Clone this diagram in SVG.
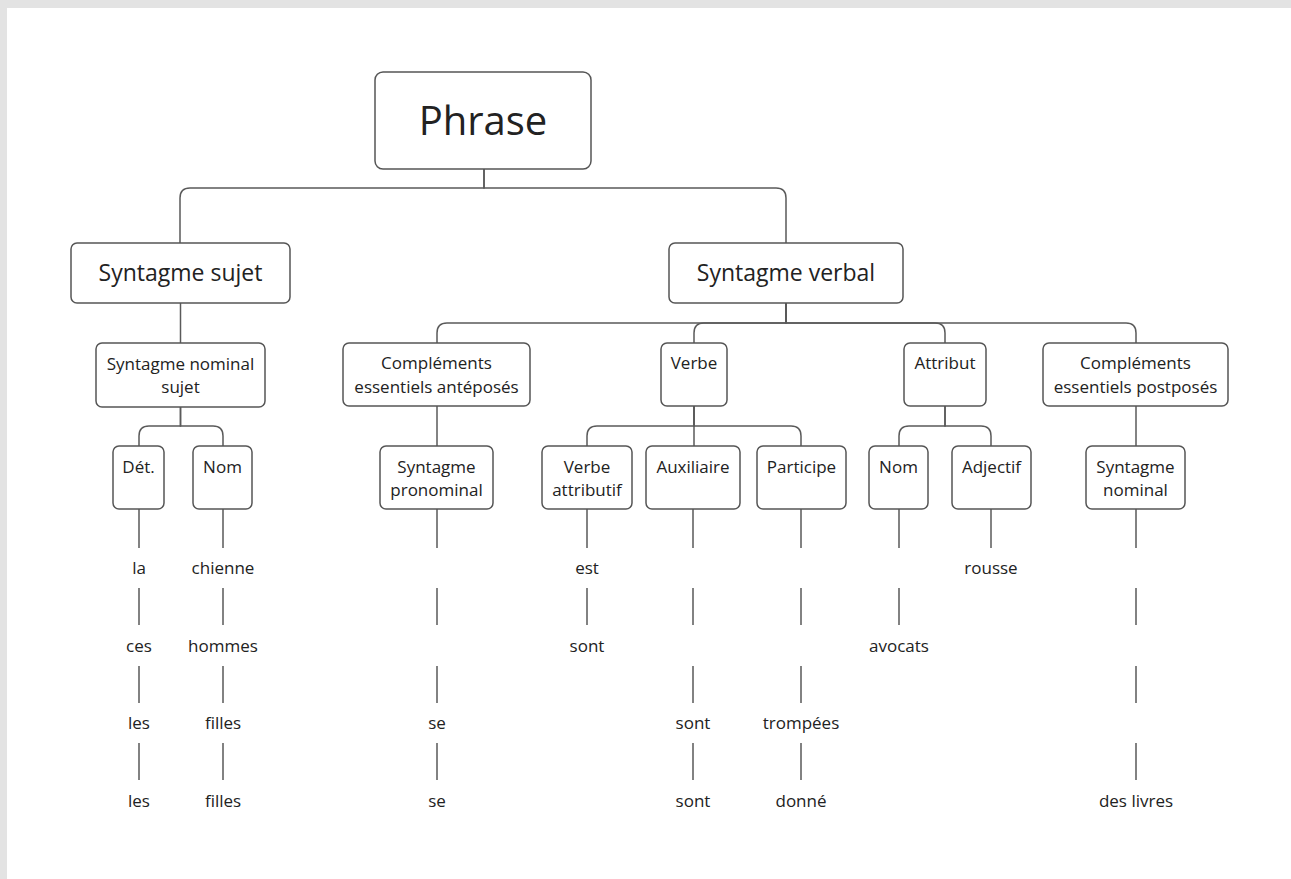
<svg xmlns="http://www.w3.org/2000/svg" width="1291" height="879" viewBox="0 0 1291 879">
<style>
.box{fill:#fff;stroke:#555;stroke-width:1.5}
.ln{fill:none;stroke:#5a5a5a;stroke-width:1.5}
text{font-family:"Open Sans","Noto Sans","DejaVu Sans",sans-serif;fill:#222;text-anchor:middle}
.t1{font-size:40px}
.t2{font-size:23px}
.t3{font-size:17px}
.w{font-size:17px}
</style>
<rect x="0" y="0" width="1291" height="879" fill="#fff"/>
<rect x="0" y="0" width="1291" height="8" fill="#e3e3e3"/>
<rect x="0" y="0" width="7" height="879" fill="#e3e3e3"/>
<g id="connectors">
<path class="ln" d="M484,169 V188 H190 Q180,188 180,198 V243"/>
<path class="ln" d="M484,169 V188 H776 Q786,188 786,198 V243"/>
<path class="ln" d="M180.5,303 V343"/>
<path class="ln" d="M786,303 V323 H447 Q437,323 437,333 V343"/>
<path class="ln" d="M786,303 V323 H704 Q694,323 694,333 V343"/>
<path class="ln" d="M786,303 V323 H935 Q945,323 945,333 V343"/>
<path class="ln" d="M786,303 V323 H1126 Q1136,323 1136,333 V343"/>
<path class="ln" d="M180.5,407 V426 H149 Q139,426 139,436 V446"/>
<path class="ln" d="M180.5,407 V426 H213 Q223,426 223,436 V446"/>
<path class="ln" d="M437,406 V446"/>
<path class="ln" d="M694,406 V426 H597 Q587,426 587,436 V446"/>
<path class="ln" d="M694,406 V446"/>
<path class="ln" d="M694,406 V426 H791 Q801,426 801,436 V446"/>
<path class="ln" d="M945,406 V426 H909 Q899,426 899,436 V446"/>
<path class="ln" d="M945,406 V426 H981 Q991,426 991,436 V446"/>
<path class="ln" d="M1136,406 V446"/>
<path class="ln" d="M139,509 V548 M139,588 V625 M139,666 V703 M139,743 V780"/>
<path class="ln" d="M223,509 V548 M223,588 V625 M223,666 V703 M223,743 V780"/>
<path class="ln" d="M437,509 V548 M437,588 V625 M437,666 V703 M437,743 V780"/>
<path class="ln" d="M587,509 V548 M587,588 V625"/>
<path class="ln" d="M693,509 V548 M693,588 V625 M693,666 V703 M693,743 V780"/>
<path class="ln" d="M801,509 V548 M801,588 V625 M801,666 V703 M801,743 V780"/>
<path class="ln" d="M899,509 V548 M899,588 V625"/>
<path class="ln" d="M991,509 V548"/>
<path class="ln" d="M1136,509 V548 M1136,588 V625 M1136,666 V703 M1136,743 V780"/>
</g>
<g id="phrase"><rect class="box" x="375" y="72" width="216" height="97" rx="8"/><text class="t1" x="483" y="135">Phrase</text></g>
<g id="syntagme-sujet"><rect class="box" x="71" y="243" width="219" height="60" rx="6"/><text class="t2" x="180.5" y="281">Syntagme sujet</text></g>
<g id="syntagme-verbal"><rect class="box" x="669" y="243" width="234" height="60" rx="6"/><text class="t2" x="786" y="281">Syntagme verbal</text></g>
<g id="sn-sujet"><rect class="box" x="96" y="343" width="169" height="64" rx="6"/><text class="t3" x="180.5" y="370">Syntagme nominal</text><text class="t3" x="180.5" y="393">sujet</text></g>
<g id="comp-ante"><rect class="box" x="343" y="343" width="187" height="63" rx="6"/><text class="t3" x="436.5" y="369">Compléments</text><text class="t3" x="436.5" y="393">essentiels antéposés</text></g>
<g id="verbe"><rect class="box" x="661" y="343" width="66" height="63" rx="6"/><text class="t3" x="694" y="369">Verbe</text></g>
<g id="attribut"><rect class="box" x="904" y="343" width="82" height="63" rx="6"/><text class="t3" x="945" y="369">Attribut</text></g>
<g id="comp-post"><rect class="box" x="1043" y="343" width="185" height="63" rx="6"/><text class="t3" x="1135.5" y="369">Compléments</text><text class="t3" x="1135.5" y="393">essentiels postposés</text></g>
<g id="det"><rect class="box" x="113" y="446" width="51" height="63" rx="6"/><text class="t3" x="138.5" y="473">Dét.</text></g>
<g id="nom1"><rect class="box" x="193" y="446" width="59" height="63" rx="6"/><text class="t3" x="222.5" y="473">Nom</text></g>
<g id="s-pron"><rect class="box" x="380" y="446" width="113" height="63" rx="6"/><text class="t3" x="436.5" y="473">Syntagme</text><text class="t3" x="436.5" y="496">pronominal</text></g>
<g id="verbe-attr"><rect class="box" x="542" y="446" width="90" height="63" rx="6"/><text class="t3" x="587" y="473">Verbe</text><text class="t3" x="587" y="496">attributif</text></g>
<g id="auxiliaire"><rect class="box" x="646" y="446" width="94" height="63" rx="6"/><text class="t3" x="693" y="473">Auxiliaire</text></g>
<g id="participe"><rect class="box" x="757" y="446" width="89" height="63" rx="6"/><text class="t3" x="801.5" y="473">Participe</text></g>
<g id="nom2"><rect class="box" x="869" y="446" width="59" height="63" rx="6"/><text class="t3" x="898.5" y="473">Nom</text></g>
<g id="adjectif"><rect class="box" x="952" y="446" width="79" height="63" rx="6"/><text class="t3" x="991.5" y="473">Adjectif</text></g>
<g id="s-nominal"><rect class="box" x="1086" y="446" width="99" height="63" rx="6"/><text class="t3" x="1135.5" y="473">Syntagme</text><text class="t3" x="1135.5" y="496">nominal</text></g>
<g id="words">
<text class="w" x="139" y="574">la</text><text class="w" x="139" y="652">ces</text><text class="w" x="139" y="729">les</text><text class="w" x="139" y="807">les</text>
<text class="w" x="223" y="574">chienne</text><text class="w" x="223" y="652">hommes</text><text class="w" x="223" y="729">filles</text><text class="w" x="223" y="807">filles</text>
<text class="w" x="437" y="729">se</text><text class="w" x="437" y="807">se</text>
<text class="w" x="587" y="574">est</text><text class="w" x="587" y="652">sont</text>
<text class="w" x="693" y="729">sont</text><text class="w" x="693" y="807">sont</text>
<text class="w" x="801" y="729">trompées</text><text class="w" x="801" y="807">donné</text>
<text class="w" x="899" y="652">avocats</text>
<text class="w" x="991" y="574">rousse</text>
<text class="w" x="1136" y="807">des livres</text>
</g>
</svg>
